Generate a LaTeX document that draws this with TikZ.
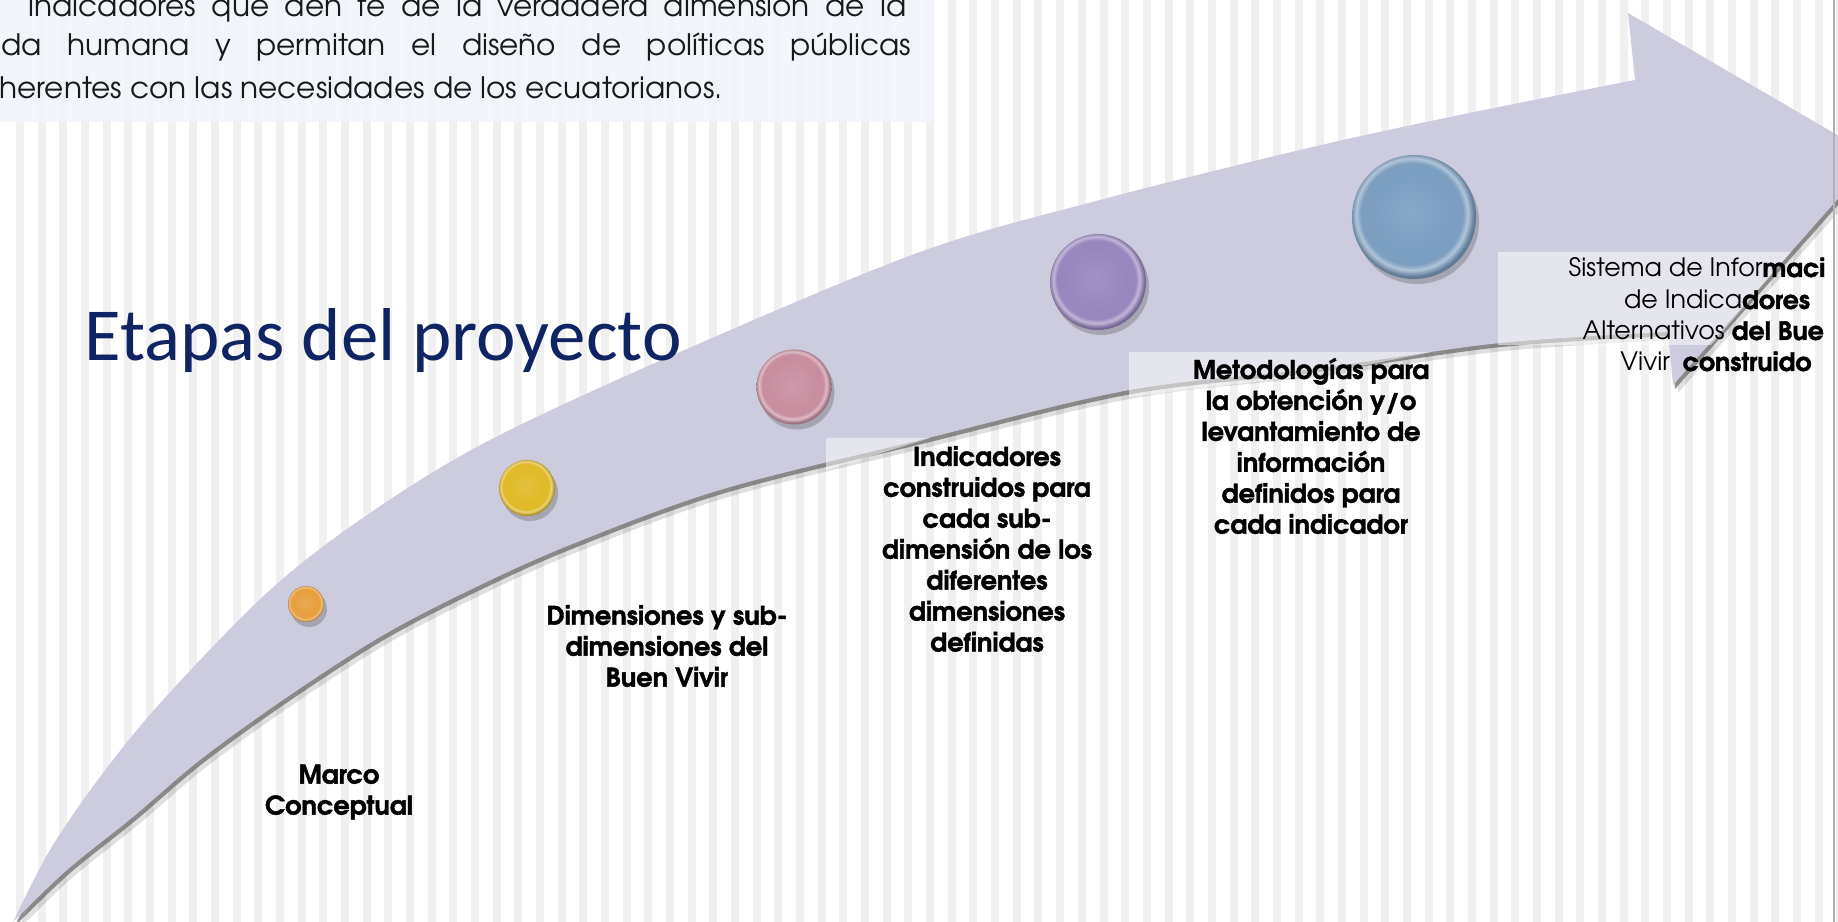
\documentclass[tikz,border=0pt]{standalone}
\usepackage{fontspec}
\setmainfont{TeX Gyre Adventor}[BoldFeatures={FakeBold=1.6}]
\newfontfamily\titlefont{Carlito}
\usetikzlibrary{shadows}

\definecolor{bandc}{RGB}{204,204,222}
\definecolor{stripec}{RGB}{240,240,240}
\definecolor{navy}{RGB}{16,36,100}
\definecolor{topbox}{RGB}{241,244,250}
\definecolor{orangeb}{RGB}{232,160,64}
\definecolor{yellowb}{RGB}{224,186,40}
\definecolor{pinkb}{RGB}{200,142,160}
\definecolor{purpleb}{RGB}{152,134,190}
\definecolor{blueb}{RGB}{124,158,192}
\colorlet{ballc}{orangeb}

\pgfdeclareradialshading[ballc]{bevel}{\pgfpoint{-1.5bp}{2bp}}{%
  color(0bp)=(ballc!90!white); color(16bp)=(ballc); color(20.5bp)=(ballc);
  color(22.5bp)=(ballc!60!white); color(25bp)=(ballc!78!black); color(50bp)=(ballc!78!black)}

\newcommand\lblfont{\bfseries\fontsize{7.3pt}{8.8pt}\selectfont}
\newcommand\sisfont{\fontsize{7.2pt}{8.8pt}\selectfont}
\newcommand\toptextfont{\fontsize{8.4pt}{9pt}\selectfont}

\def\bandpath{plot[smooth, tension=0.55] coordinates {(13,922) (50,850) (100,777) (163,700) (270,590) (370,513) (490,440) (680,352) (920,252) (1100,200) (1300,150) (1450,117) (1635,80)}
  -- (1628,13) -- (1875,157) -- (1673,385) -- (1668,332)
  -- plot[smooth, tension=0.55] coordinates {(1668,332) (1500,343) (1320,368) (1130,390) (920,440) (720,490) (570,545) (470,590) (380,637) (283,700) (200,760) (133,817) (67,870) (13,922)} -- cycle}

\tikzset{
  ball/.style 2 args={circle, inner sep=0pt, minimum size=#1,
    /utils/exec={\colorlet{ballc}{#2}}, shading=bevel,
    drop shadow={shadow xshift=0.03cm, shadow yshift=-0.05cm, opacity=0.3, fill=black!70}},
  lbl/.style={align=center, inner sep=0pt, font=\lblfont, text=black},
  sis/.style={inner sep=0pt, font=\sisfont, text=black},
  toptext/.style={anchor=base west, inner sep=0pt, font=\toptextfont, text=black!90},
  labelbox/.style={fill=white, opacity=0.5},
}

\begin{document}
\begin{tikzpicture}[x=0.01cm, y=-0.01cm]
\useasboundingbox (0,0) rectangle (1838,922);
\clip (0,0) rectangle (1838,922);
% background
\fill[white] (0,0) rectangle (1838,922);
\foreach \i in {0,...,85} {
  \fill[stripec] ({16+\i*21.67},0) rectangle ++(8,922);
}
% top text box
\fill[topbox, opacity=0.9] (0,0) rectangle (935,122);
\node[toptext] (t1) at (28,17) {\makebox[8.77cm][s]{indicadores que den fe de la verdadera dimensión de la}};
\node[toptext] (t2) at (1,56) {\makebox[9.09cm][s]{da humana y permitan el diseño de políticas públicas}};
\node[toptext] (t3) at (-1,99) {herentes con las necesidades de los ecuatorianos.};

% band shadow and band
\fill[black, opacity=0.12, shift={(5,8)}] \bandpath;
\fill[black!60, opacity=0.7, shift={(2,4)}] \bandpath;
\fill[bandc] \bandpath;

% translucent label boxes, only where they lie over the band
\fill[labelbox] (826,438) -- (930,438) -- (826,470) -- cycle;
\fill[labelbox] (1129,352) -- (1432,352) -- (1320,374) -- (1129,397) -- cycle;
\fill[labelbox] (1498,252) -- (1791,252) -- (1711,345) -- (1498,345) -- cycle;

% title
\node[anchor=base west, inner sep=0pt, font=\titlefont\fontsize{21.3pt}{25pt}\selectfont, text=navy] (title) at (84,361) {Etapas del proyecto};

% balls
\node[ball={0.36cm}{orangeb}] (b1) at (306,604) {};
\node[ball={0.56cm}{yellowb}] (b2) at (527,488) {};
\node[ball={0.75cm}{pinkb}] (b3) at (794,387) {};
\node[ball={0.96cm}{purpleb}] (b4) at (1098,282) {};
\node[ball={1.24cm}{blueb}] (b5) at (1414,217) {};

% labels
\node[lbl] (marco) at (339,792) {Marco\\Conceptual};
\node[lbl] (dim) at (667,646) {Dimensiones y sub-\\dimensiones del\\Buen Vivir};
\node[lbl] (ind) at (987,549) {Indicadores\\construidos para\\cada sub-\\dimensión de los\\diferentes\\dimensiones\\definidas};
\node[lbl] (met) at (1311,446) {Metodologías para\\la obtención y/o\\levantamiento de\\información\\definidos para\\cada indicador};

\node[sis, anchor=base west] (s1) at (1568,277) {Sistema de Infor\textbf{maci}};
\node[sis, anchor=base] (s2) at (1717,309) {de Indica\textbf{dores}};
\node[sis, anchor=base west] (s3) at (1582,340) {Alternativos \textbf{del Bue}};
\node[sis, anchor=base] (s4) at (1716,371) {Vivir\enspace \textbf{construido}};

% right border
\draw[gray!60, line width=0.02cm] (1834,0) -- (1834,922);
\end{tikzpicture}
\end{document}
